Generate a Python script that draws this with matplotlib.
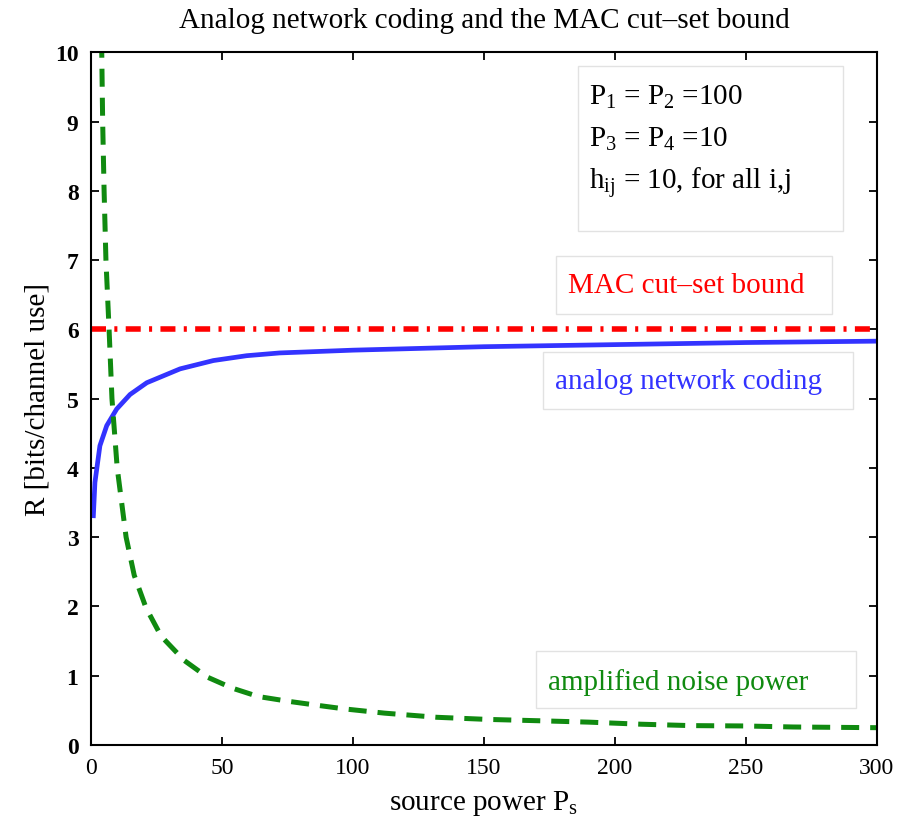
import matplotlib
matplotlib.use("Agg")
import matplotlib.pyplot as plt
from matplotlib.patches import Rectangle

# ---- data ----
title = "Analog network coding and the MAC cut\u2013set bound"
xlabel = r"source power P$_\mathrm{s}$"
ylabel = "R [bits/channel use]"

anc_x = [0.9, 1.5, 3.4, 6.0, 9.8, 14.9, 21.3, 34.0, 46.7, 59.4, 72.0, 100.0, 150.0, 200.0, 250.0, 300.0]
anc_y = [3.31, 3.79, 4.32, 4.61, 4.85, 5.06, 5.23, 5.43, 5.55, 5.62, 5.66, 5.70, 5.75, 5.78, 5.81, 5.83]

noise_x = [3.8, 4.1, 4.45, 5.0, 5.7, 6.9, 8.0, 10.0, 13.4, 16.5, 21.0, 26.8, 35.6, 44.4, 54.0, 63.8,
           75.5, 87.0, 97.0, 112.0, 132.0, 151.0, 171.0, 190.0, 210.0, 229.0, 249.0, 268.0, 300.0]
noise_y = [10.6, 10.0, 9.0, 8.0, 7.0, 6.0, 5.0, 4.0, 3.0, 2.45, 1.98, 1.57, 1.22, 0.98, 0.82, 0.70,
           0.63, 0.57, 0.52, 0.46, 0.40, 0.37, 0.35, 0.33, 0.30, 0.28, 0.275, 0.26, 0.25]

bound_x = [0, 300]
bound_y = [6.0, 6.0]

xticks = [0, 50, 100, 150, 200, 250, 300]
yticks = [0, 1, 2, 3, 4, 5, 6, 7, 8, 9, 10]

params_lines = [r"P$_1$ = P$_2$ =100", r"P$_3$ = P$_4$ =10", r"h$_\mathrm{ij}$ = 10, for all i,j"]
label_bound = "MAC cut\u2013set bound"
label_anc = "analog network coding"
label_noise = "amplified noise power"

# ---- style ----
plt.rcParams['font.family'] = ['Liberation Serif', 'DejaVu Serif']
plt.rcParams['mathtext.fontset'] = 'custom'
plt.rcParams['mathtext.rm'] = 'Liberation Serif'
plt.rcParams['mathtext.it'] = 'Liberation Serif:italic'
plt.rcParams['mathtext.bf'] = 'Liberation Serif:bold'

W, H = 902, 828
fig = plt.figure(figsize=(W / 100, H / 100), dpi=100)

def fx(x):
    return x / W

def fy(y):
    return 1 - y / H

L, R, T, B = 91, 877, 53.3, 746
ax = fig.add_axes([fx(L), fy(B), (R - L) / W, (B - T) / H])

BLUE = '#3333ff'
RED = '#ff0000'
GREEN = '#108a10'

ax.plot(bound_x, bound_y, color=RED, lw=4.0, dashes=(2.7, 1.5, 0.55, 1.5), dash_capstyle='butt')
ax.plot(anc_x, anc_y, color=BLUE, lw=3.4)
ax.plot(noise_x, noise_y, color=GREEN, lw=3.6, dashes=(3.6, 2.2), dash_capstyle='butt')

ax.set_xlim(0, 300)
ax.set_ylim(0, 10)
ax.set_xticks(xticks)
ax.set_yticks(yticks)
ax.set_xticklabels([str(v) for v in xticks], fontsize=17)
ax.set_yticklabels([str(v) for v in yticks], fontsize=17, fontweight='bold')
ax.tick_params(direction='in', length=6, width=1.3, top=True, right=True, pad=9)
for s in ax.spines.values():
    s.set_linewidth(1.5)

fs = 21
fig.text(fx(484), fy(28), title, ha='center', va='baseline', fontsize=fs)
fig.text(fx(484), fy(810), xlabel, ha='center', va='baseline', fontsize=fs)
fig.text(fx(38), fy(400), ylabel, ha='center', va='center', rotation=90, fontsize=fs)

def box(x0, y0, x1, y1):
    fig.add_artist(Rectangle((fx(x0), fy(y1)), (x1 - x0) / W, (y1 - y0) / H,
                             transform=fig.transFigure, facecolor='white',
                             edgecolor='#e2e2e2', lw=1.0))

box(578, 67, 843, 232)
for line, yb in zip(params_lines, [105, 147, 190]):
    fig.text(fx(589), fy(yb), line, ha='left', va='baseline', fontsize=fs, color='black')

box(556, 257, 832, 315)
fig.text(fx(568), fy(293), label_bound, ha='left', va='baseline', fontsize=fs, color=RED)

box(543, 353, 853, 410)
fig.text(fx(555), fy(389), label_anc, ha='left', va='baseline', fontsize=fs, color=BLUE)

box(536, 652, 856, 709)
fig.text(fx(548), fy(690), label_noise, ha='left', va='baseline', fontsize=fs, color=GREEN)

fig.savefig('out.png', dpi=100)
